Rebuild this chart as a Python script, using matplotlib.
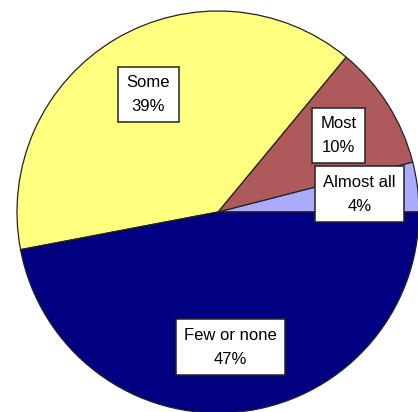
import matplotlib.pyplot as plt
import numpy as np

# Share of respondents per category
labels = ["Almost all", "Most", "Some", "Few or none"]
values = [4, 10, 39, 47]
colors = ["#AAAAFF", "#AF5A5A", "#FFFF80", "#000080"]

plt.rcParams['font.family'] = ['Liberation Sans', 'DejaVu Sans']

fig = plt.figure(figsize=(4.18, 4.12), dpi=100)
ax = fig.add_axes([0, 0, 1, 1])

wedges, _ = ax.pie(values, colors=colors, startangle=0, counterclock=True,
                   radius=1.0,
                   wedgeprops=dict(edgecolor="#222222", linewidth=0.9))

# white boxed labels inside each slice (distance from centre per label)
label_dist = [0.71, 0.71, 0.68, 0.675]
for w, lab, v, d in zip(wedges, labels, values, label_dist):
    ang = np.deg2rad((w.theta1 + w.theta2) / 2)
    ax.text(d * np.cos(ang), d * np.sin(ang), f"{lab}\n{v}%",
            ha="center", va="center", fontsize=12, linespacing=1.75,
            bbox=dict(boxstyle="square,pad=0.5", facecolor="white",
                      edgecolor="#222222", linewidth=1.1))

# pixel mapping: centre at (218, 212), radius 201 px
r = 201.0
ax.set_xlim(-218 / r, (418 - 218) / r)
ax.set_ylim(-(412 - 212) / r, 212 / r)
ax.set_aspect('auto')
ax.axis('off')

fig.savefig("out.png", dpi=100)
